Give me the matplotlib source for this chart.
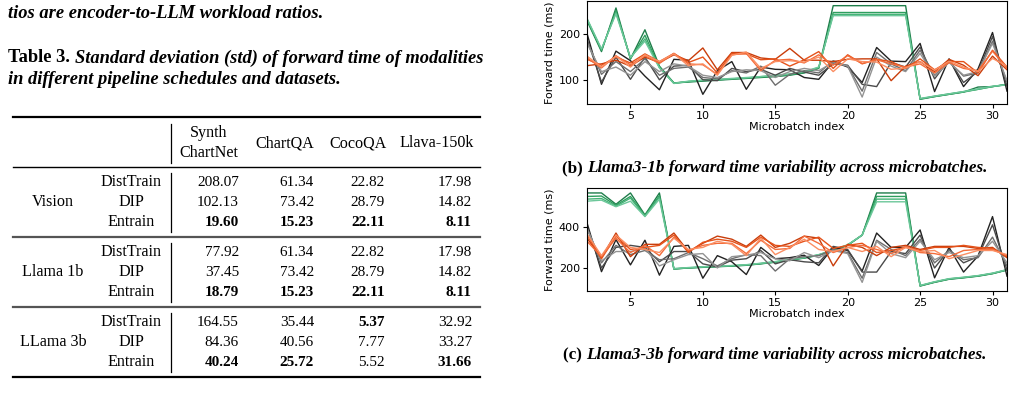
import numpy as np
import matplotlib.pyplot as plt

# ---- table data ----
datasets = ['ChartQA', 'CocoQA', 'Llava-150k']
groups = ['Vision', 'Llama 1b', 'LLama 3b']
methods = ['DistTrain', 'DIP', 'Entrain']
table_vals = [
    [['208.07', '61.34', '22.82', '17.98'],
     ['102.13', '73.42', '28.79', '14.82'],
     ['19.60', '15.23', '22.11', '8.11']],
    [['77.92', '61.34', '22.82', '17.98'],
     ['37.45', '73.42', '28.79', '14.82'],
     ['18.79', '15.23', '22.11', '8.11']],
    [['164.55', '35.44', '5.37', '32.92'],
     ['84.36', '40.56', '7.77', '33.27'],
     ['40.24', '25.72', '5.52', '31.66']],
]
table_bold = [
    [[0, 0, 0, 0], [0, 0, 0, 0], [1, 1, 1, 1]],
    [[0, 0, 0, 0], [0, 0, 0, 0], [1, 1, 1, 1]],
    [[0, 0, 1, 0], [0, 0, 0, 0], [1, 1, 0, 1]],
]

# ---- microbatch forward times ----
mb = np.arange(2, 32)

# Llama3-1b
g1 = [
    [230, 162, 258, 146, 210, 130, 93, 95, 97, 99, 101, 103, 105, 107, 110, 115, 125, 263, 263, 263, 263, 263, 263, 57, 63, 68, 73, 84, 85, 90],
    [232, 165, 252, 146, 198, 128, 93, 96, 98, 100, 102, 104, 106, 108, 111, 116, 126, 248, 248, 248, 248, 248, 248, 58, 63, 68, 73, 79, 85, 90],
    [234, 166, 248, 148, 190, 127, 92, 96, 99, 100, 102, 104, 107, 109, 112, 117, 127, 244, 244, 244, 244, 244, 244, 58, 64, 69, 74, 79, 85, 89],
    [235, 168, 245, 149, 185, 126, 92, 97, 99, 101, 103, 105, 107, 110, 113, 118, 128, 241, 241, 241, 241, 241, 241, 59, 64, 69, 74, 80, 86, 89],
]
k1 = [
    [202, 90, 163, 142, 108, 78, 145, 143, 68, 120, 140, 79, 128, 123, 122, 105, 101, 140, 128, 94, 171, 141, 140, 180, 74, 146, 85, 124, 204, 75],
    [190, 95, 150, 101, 150, 100, 130, 132, 100, 98, 125, 118, 123, 110, 125, 117, 110, 135, 132, 90, 85, 138, 128, 172, 102, 144, 94, 118, 195, 85],
    [185, 112, 140, 118, 146, 110, 125, 128, 105, 102, 120, 115, 130, 88, 112, 120, 115, 142, 130, 75, 160, 135, 120, 165, 110, 140, 108, 115, 185, 95],
    [180, 118, 128, 110, 140, 118, 135, 130, 110, 105, 118, 122, 120, 105, 118, 125, 120, 138, 130, 62, 150, 130, 118, 158, 108, 138, 110, 118, 180, 98],
]
o1 = [
    [131, 135, 143, 130, 150, 138, 155, 142, 170, 122, 160, 160, 148, 145, 169, 143, 143, 140, 145, 146, 146, 98, 130, 140, 118, 145, 132, 109, 152, 122],
    [145, 132, 150, 137, 157, 140, 158, 138, 150, 115, 158, 157, 144, 146, 130, 144, 162, 125, 155, 135, 145, 140, 125, 146, 122, 140, 140, 115, 165, 128],
    [148, 126, 153, 133, 153, 136, 158, 135, 133, 112, 155, 158, 120, 143, 145, 137, 155, 132, 153, 136, 144, 135, 128, 135, 115, 138, 125, 120, 163, 125],
    [152, 128, 152, 128, 155, 140, 157, 131, 135, 110, 154, 161, 125, 140, 142, 139, 150, 118, 146, 140, 139, 123, 126, 140, 121, 141, 128, 118, 147, 130],
]

# Llama3-3b
g3 = [
    [565, 565, 510, 565, 458, 565, 195, 200, 203, 206, 209, 213, 220, 228, 238, 248, 262, 285, 310, 360, 565, 565, 565, 112, 130, 145, 152, 160, 172, 190],
    [548, 550, 505, 548, 455, 552, 195, 200, 204, 207, 210, 214, 221, 229, 239, 249, 263, 286, 311, 360, 548, 548, 548, 113, 131, 146, 153, 161, 173, 190],
    [535, 538, 500, 540, 452, 545, 196, 201, 205, 208, 211, 215, 222, 230, 240, 250, 264, 287, 312, 360, 535, 535, 535, 114, 132, 147, 154, 162, 174, 191],
    [525, 530, 498, 525, 450, 535, 197, 202, 206, 209, 212, 216, 223, 231, 241, 251, 265, 288, 313, 360, 522, 522, 522, 115, 133, 148, 155, 163, 175, 192],
]
k3 = [
    [420, 182, 338, 215, 335, 165, 305, 310, 150, 260, 230, 168, 300, 245, 250, 262, 212, 300, 285, 185, 370, 300, 300, 385, 152, 300, 180, 258, 450, 160],
    [400, 200, 300, 310, 300, 230, 280, 280, 220, 205, 238, 245, 285, 220, 240, 230, 225, 305, 290, 180, 180, 280, 270, 360, 200, 290, 225, 255, 410, 190],
    [395, 225, 310, 265, 285, 240, 245, 275, 245, 210, 245, 265, 260, 185, 245, 255, 260, 290, 275, 150, 335, 290, 260, 340, 225, 285, 240, 250, 350, 210],
    [390, 235, 280, 280, 295, 210, 240, 265, 270, 200, 255, 262, 275, 245, 235, 275, 250, 285, 270, 130, 330, 270, 250, 330, 240, 275, 250, 260, 330, 225],
]
o3 = [
    [345, 250, 370, 255, 315, 315, 370, 280, 320, 355, 340, 305, 360, 300, 320, 355, 345, 210, 315, 300, 260, 300, 310, 290, 305, 305, 305, 295, 300, 250],
    [360, 245, 355, 290, 300, 310, 360, 275, 325, 340, 330, 300, 350, 310, 305, 330, 350, 295, 310, 320, 275, 285, 300, 285, 300, 300, 310, 300, 295, 255],
    [330, 255, 345, 275, 310, 260, 350, 285, 310, 320, 320, 270, 335, 290, 295, 355, 320, 275, 300, 310, 290, 270, 305, 275, 270, 255, 285, 290, 290, 260],
    [365, 260, 360, 300, 290, 275, 345, 290, 300, 330, 315, 260, 345, 265, 300, 340, 290, 280, 300, 280, 305, 255, 300, 280, 285, 245, 265, 285, 285, 265],
]

greens = ['#1e7d4a', '#2e9e5e', '#45b377', '#6cc79a']
grays = ['#222222', '#4a4a4a', '#6e6e6e', '#939393']
oranges = ['#c93d0b', '#e5521a', '#f46c3a', '#fb8e62']

serif = 'Liberation Serif'
fig = plt.figure(figsize=(10.14, 3.93), dpi=100)

# page overlay in pixel coordinates
page = fig.add_axes([0, 0, 1, 1])
page.set_xlim(0, 1014)
page.set_ylim(393, 0)
page.axis('off')


def rich(ax, x, y, parts, size):
    # parts: list of (text, weight, style)
    fig.canvas.draw()
    r = fig.canvas.get_renderer()
    for s, w, st in parts:
        t = ax.text(x, y, s, fontsize=size, family=serif, weight=w, style=st,
                    va='center', ha='left')
        bb = t.get_window_extent(renderer=r)
        x += bb.width


rich(page, 8, 13, [('tios are encoder-to-LLM workload ratios.', 'bold', 'italic')], 13.3)
rich(page, 8, 58, [('Table 3. ', 'bold', 'normal'),
                   ('Standard deviation (std) of forward time of modalities', 'bold', 'italic')], 13.3)
rich(page, 8, 80, [('in different pipeline schedules and datasets.', 'bold', 'italic')], 13.3)

# table rules
page.plot([13, 480], [117, 117], color='black', lw=1.6)
page.plot([13, 480], [167, 167], color='black', lw=1.0)
page.plot([13, 480], [237, 237], color='#555555', lw=1.6)
page.plot([13, 480], [307, 307], color='#555555', lw=1.6)
page.plot([13, 480], [377, 377], color='black', lw=1.6)
page.plot([171, 171], [124, 163], color='black', lw=0.9)

fs = 11
fw = 11.6
page.text(209, 133, 'Synth', fontsize=fw, family=serif, ha='center', va='center')
page.text(209, 153, 'ChartNet', fontsize=fw, family=serif, ha='center', va='center')
col_x = [239, 314, 385, 472]
hdr_x = [285, 358, 437]
for hx, name in zip(hdr_x, datasets):
    page.text(hx, 143, name, fontsize=fw, family=serif, ha='center', va='center')

row_y0 = [182, 252, 322]
for gi, grp in enumerate(groups):
    y0 = row_y0[gi]
    page.plot([171, 171], [y0 - 9, y0 + 50], color='black', lw=0.9)
    page.text(53, y0 + 20, grp, fontsize=fw, family=serif, ha='center', va='center')
    for mi, m in enumerate(methods):
        yy = y0 + 20 * mi
        page.text(131, yy, m, fontsize=fw, family=serif, ha='center', va='center')
        for ci in range(4):
            page.text(col_x[ci], yy, table_vals[gi][mi][ci], fontsize=fs, family=serif,
                      ha='right', va='center',
                      weight='bold' if table_bold[gi][mi][ci] else 'normal')

# captions under the charts
rich(page, 562, 168, [('(b) ', 'bold', 'normal'),
                      ('Llama3-1b forward time variability across microbatches.', 'bold', 'italic')], 12.3)
rich(page, 563, 355, [('(c) ', 'bold', 'normal'),
                      ('Llama3-3b forward time variability across microbatches.', 'bold', 'italic')], 12.3)


def chart(ax, gs, ks, os_):
    for ys, c in zip(gs, greens):
        ax.plot(mb, ys, color=c, lw=1.0)
    for ys, c in zip(ks, grays):
        ax.plot(mb, ys, color=c, lw=1.0)
    for ys, c in zip(os_, oranges):
        ax.plot(mb, ys, color=c, lw=1.0)
    ax.set_xlim(2, 31)
    ax.set_xticks([5, 10, 15, 20, 25, 30])
    ax.set_xlabel('Microbatch index', fontsize=8, labelpad=1)
    ax.set_ylabel('Forward time (ms)', fontsize=8, labelpad=3)
    ax.tick_params(labelsize=8, length=3, pad=2)


ax1 = fig.add_axes([587 / 1014, 1 - 104 / 393, 420 / 1014, 103 / 393])
chart(ax1, g1, k1, o1)
ax1.set_yticks([100, 200])

ax2 = fig.add_axes([587 / 1014, 1 - 290.7 / 393, 420 / 1014, 102.4 / 393])
chart(ax2, g3, k3, o3)
ax2.set_yticks([200, 400])

fig.savefig('out.png', dpi=100)
